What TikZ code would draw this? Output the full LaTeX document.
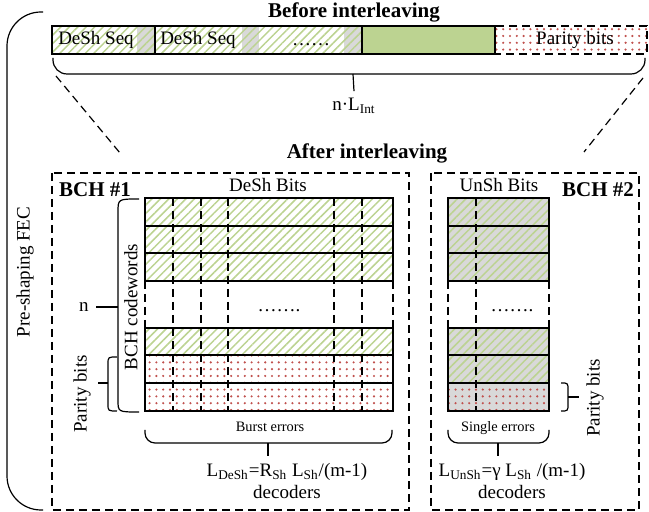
\documentclass[tikz,border=0pt]{standalone}
\usepackage{fontspec}
\setmainfont{Liberation Serif}
\usetikzlibrary{patterns.meta}

\definecolor{leafgreen}{HTML}{BCD391}
\definecolor{dotred}{HTML}{C0504D}
\definecolor{cellgray}{HTML}{D9D9D9}

\tikzset{
  greenhatch/.style={pattern={Lines[angle=45,distance=3pt,line width=0.75pt]},pattern color=leafgreen},
  reddots/.style={pattern={Dots[radius=0.6pt,distance=3.4pt]},pattern color=dotred},
  boxdash/.style={dash pattern=on 4pt off 2.5pt},
  titlefont/.style={font=\fontsize{10.5}{12}\selectfont\bfseries},
  smallfont/.style={font=\fontsize{7.2}{8}\selectfont}
}

\begin{document}
\begin{tikzpicture}[x=0.5pt,y=-0.5pt,line width=0.6pt,font=\fontsize{9.5}{11}\selectfont]
  \useasboundingbox (0,0) rectangle (649,512);

  % before interleaving
  \node[titlefont] (before) at (354,12) {Before interleaving};
  \fill[cellgray] (137,26) rectangle (155,54);
  \fill[cellgray] (242,26) rectangle (259,54);
  \fill[cellgray] (344,26) rectangle (362,54);
  \path[greenhatch] (52,26) rectangle (362,54);
  \fill[leafgreen] (362,26) rectangle (495,54);
  \path[reddots] (495,26) rectangle (647,54);
  \draw (52,26) rectangle (495,54);
  \draw (155,26) -- (155,54);
  \draw (362,26) -- (362,54);
  \draw[boxdash] (495,26) rectangle (647,54);
  \node (seq1) at (96,40) {DeSh Seq};
  \node (seq2) at (198,40) {DeSh Seq};
  \node (seqdots) at (311,45) {……};
  \node (parity) at (575,40) {Parity bits};

  \draw[rounded corners=7pt] (53,58) -- (53,74) -- (645,74) -- (645,58);
  \coordinate (barmid) at (353,74);
  \node (nint) at (354,106) {n·L\textsubscript{Int}};
  \draw (barmid) -- (nint.north);

  \draw[boxdash] (56,76) -- (120,153);
  \draw[boxdash] (643,78) -- (584,152);

  % after interleaving
  \node[titlefont] (after) at (367,153) {After interleaving};
  \draw[rounded corners=17pt] (43,12) -- (7,12) -- (7,510) -- (43,510);
  \node[rotate=90] (fec) at (25,272) {Pre-shaping FEC};

  \draw[boxdash] (52,173) rectangle (409,510);
  \draw[boxdash] (431,173) rectangle (639,510);
  \node[titlefont] (bch1) at (95,190) {BCH \#1};
  \node[titlefont] (bch2) at (598,190) {BCH \#2};
  \node (deshbits) at (268,185) {DeSh Bits};
  \node (unshbits) at (499,185) {UnSh Bits};

  % BCH #1 grid
  \path[greenhatch] (145,198) rectangle (393,281);
  \path[greenhatch] (145,328) rectangle (393,355);
  \path[reddots] (145,355) rectangle (393,411);
  \draw (145,198) rectangle (393,281);
  \draw (145,328) rectangle (393,411);
  \foreach \y in {226,253,355,383}
    \draw (145,\y) -- (393,\y);
  \foreach \x in {145,393}
    \draw[boxdash] (\x,281) -- (\x,328);
  \foreach \x in {173,201,228,334,362}
    \draw[boxdash] (\x,198) -- (\x,411);
  \node (gapdots1) at (279,311) {…….};

  % BCH #2 grid
  \fill[cellgray] (448,198) rectangle (549,281);
  \fill[cellgray] (448,328) rectangle (549,411);
  \path[greenhatch] (448,198) rectangle (549,281);
  \path[greenhatch] (448,328) rectangle (549,383);
  \path[reddots] (448,383) rectangle (549,411);
  \draw (448,198) rectangle (549,281);
  \draw (448,328) rectangle (549,411);
  \foreach \y in {226,253,355,383}
    \draw (448,\y) -- (549,\y);
  \foreach \x in {448,549}
    \draw[boxdash] (\x,281) -- (\x,328);
  \draw[boxdash] (476,198) -- (476,411);
  \node (gapdots2) at (512,311) {…….};

  % braces on the left
  \draw (139,199) .. controls (118,199) .. (118,212) -- (118,400) .. controls (118,412) .. (139,412);
  \coordinate (cwmid) at (118,307);
  \node (nlab) at (84,307) {n};
  \draw (cwmid) -- (cwmid -| nlab.east);
  \node[rotate=90] (codewords) at (131,307) {BCH codewords};

  \draw (117,357) .. controls (108,357) .. (108,364) -- (108,404) .. controls (108,411) .. (117,411);
  \coordinate (parmid) at (108,383);
  \node[rotate=90] (parleft) at (82,394) {Parity bits};
  \draw (parmid) -- (parmid -| parleft.south);

  \draw (561,383) .. controls (568,383) .. (568,390) -- (568,404) .. controls (568,411) .. (561,411);
  \coordinate (parmid2) at (568,397);
  \node[rotate=90] (parright) at (595,398) {Parity bits};
  \draw (parmid2) -- (parmid2 -| parright.north);

  % braces below
  \node[smallfont] (burst) at (270,427) {Burst errors};
  \draw[rounded corners=5pt] (145,430) -- (145,443) -- (392,443) -- (392,430);
  \coordinate (burstmid) at (268,443);
  \node[align=center] (deshdec) at (287,481) {L\textsubscript{DeSh}=R\textsubscript{Sh} L\textsubscript{Sh}/(m-1)\\decoders};
  \draw (burstmid) -- (burstmid |- deshdec.north);

  \node[smallfont] (single) at (498,428) {Single errors};
  \draw[rounded corners=5pt] (448,430) -- (448,443) -- (549,443) -- (549,430);
  \coordinate (singlemid) at (498,443);
  \node[align=center] (unshdec) at (512,481) {L\textsubscript{UnSh}=γ L\textsubscript{Sh} /(m-1)\\decoders};
  \draw (singlemid) -- (singlemid |- unshdec.north);
\end{tikzpicture}
\end{document}
